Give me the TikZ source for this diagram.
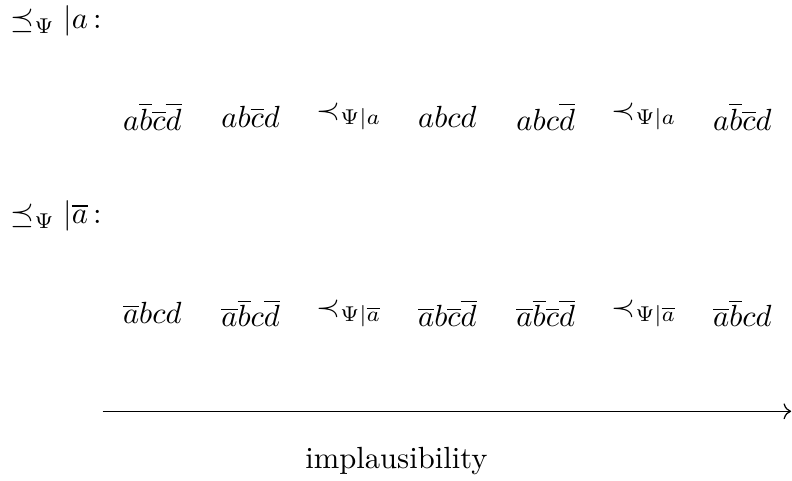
\documentclass[tikz,border=0pt]{standalone}
\usepackage{amsmath,amssymb}
\usetikzlibrary{arrows.meta,positioning}

\begin{document}
\begin{tikzpicture}[
  rowlbl/.style={anchor=west},
  world/.style={inner sep=2pt},
  arr/.style={->}
]
  \useasboundingbox (0,0) rectangle (9.10,5.52);
  % ordering given a
  \node[rowlbl] (la) at (0,5.28) {$\preceq_\Psi |a$\,:};
  \node[world] (a1) at (1.75,4.18) {$a\overline{b}\overline{c}\overline{d}$};
  \node[world] (a2) at (2.88,4.18) {$ab\overline{c}d$};
  \node[world] (a3) at (4.01,4.18) {$\prec_{\Psi|a}$};
  \node[world] (a4) at (5.14,4.18) {$abcd$};
  \node[world] (a5) at (6.27,4.18) {$abc\overline{d}$};
  \node[world] (a6) at (7.40,4.18) {$\prec_{\Psi|a}$};
  \node[world] (a7) at (8.53,4.18) {$a\overline{b}\overline{c}d$};
  % ordering given not a
  \node[rowlbl] (lna) at (0,3.04) {$\preceq_\Psi |\overline{a}$\,:};
  \node[world] (na1) at (1.75,1.92) {$\overline{a}bcd$};
  \node[world] (na2) at (2.88,1.92) {$\overline{a}\overline{b}c\overline{d}$};
  \node[world] (na3) at (4.01,1.92) {$\prec_{\Psi|\overline{a}}$};
  \node[world] (na4) at (5.14,1.92) {$\overline{a}b\overline{c}\overline{d}$};
  \node[world] (na5) at (6.27,1.92) {$\overline{a}\overline{b}\overline{c}\overline{d}$};
  \node[world] (na6) at (7.40,1.92) {$\prec_{\Psi|\overline{a}}$};
  \node[world] (na7) at (8.53,1.92) {$\overline{a}\overline{b}cd$};
  % axis
  \coordinate (axl) at (1.18,0.794);
  \coordinate (axr) at (9.09,0.794);
  \draw[arr] (axl) -- (axr);
  \node (impl) at (4.555,0.228) {implausibility};
\end{tikzpicture}
\end{document}
